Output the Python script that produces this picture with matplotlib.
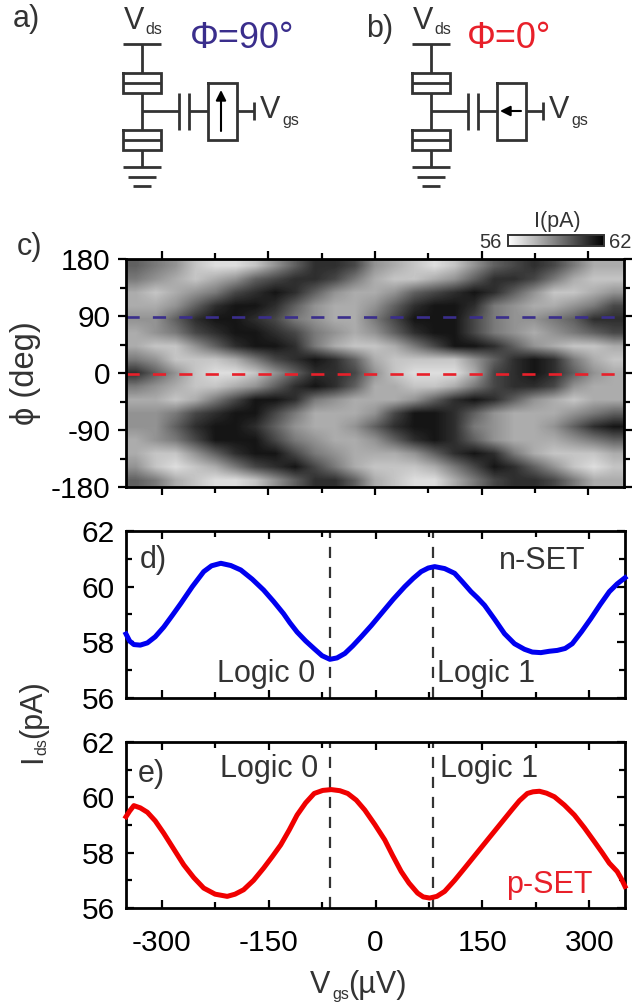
import numpy as np
import matplotlib
matplotlib.use('Agg')
import matplotlib.pyplot as plt
from matplotlib.ticker import MultipleLocator

plt.rcParams['font.family'] = ['Liberation Sans', 'DejaVu Sans']
plt.rcParams['axes.unicode_minus'] = False

W, H = 634, 1006
dark = '#333333'
blue_txt = '#3a2e8c'
red_txt = '#e8202a'

# I(pA) map, one digit per cell: 0 = 56 pA ... 9 = about 61.5 pA, top row is phi=180
heat_rows = [
    '6542112468874321246787533',
    '5432346788753223468875322',
    '3234578986433467898642234',
    '3346899864334689985433457',
    '4468998754335799975445688',
    '3457899875434689975434567',
    '3224689985322357998643223',
    '5422235789863222246898532',
    '8642112468874211137898643',
    '5432234689863322357887433',
    '3323579985433346898643233',
    '4457899753334799864333456',
    '4468998643346899854334689',
    '3457999754334689864333456',
    '3224689975433346898532223',
    '4212357897532223579864212',
    '6532112468863211357887533',
]
phi_lim = [-180, 180]
vgs_lim = [-350, 350]

# n-SET curve
v_n = [-350, -345, -339, -330, -320, -309, -297, -285, -273, -257, -241, -230, -217, -203, -189,
       -173, -157, -143, -129, -120, -110, -98, -86, -75, -64, -54, -43, -32, -20, -6,
       8, 25, 41, 53, 64, 74, 83, 97, 111, 122, 134, 143, 153, 167, 181,
       195, 209, 220, 232, 244, 255, 266, 276, 289, 302, 315, 328, 339, 350]
i_n = [58.3, 58.05, 57.92, 57.9, 57.98, 58.2, 58.55, 58.97, 59.4, 60.0, 60.54, 60.75, 60.84, 60.76, 60.6,
       60.27, 59.88, 59.47, 59.03, 58.7, 58.37, 58.05, 57.77, 57.52, 57.39, 57.44, 57.6, 57.87, 58.2, 58.6,
       59.03, 59.55, 60.0, 60.3, 60.54, 60.67, 60.72, 60.65, 60.48, 60.17, 59.82, 59.6, 59.33, 58.83, 58.31,
       57.95, 57.75, 57.65, 57.63, 57.68, 57.71, 57.78, 57.95, 58.38, 58.85, 59.35, 59.82, 60.1, 60.32]

# p-SET curve
v_p = [-350, -345, -339, -330, -320, -309, -297, -283, -269, -255, -241, -225, -208, -197, -185,
       -171, -157, -145, -133, -121, -110, -98, -86, -74, -62, -50, -39, -27, -15, -1,
       13, 24, 36, 47, 59, 67, 76, 86, 97, 111, 125, 141, 157, 174, 191,
       202, 213, 221, 230, 240, 251, 265, 279, 293, 307, 318, 328, 339, 345, 350]
i_p = [59.3, 59.5, 59.7, 59.62, 59.46, 59.15, 58.7, 58.13, 57.56, 57.1, 56.72, 56.5, 56.42, 56.5, 56.66,
       57.0, 57.44, 57.85, 58.28, 58.82, 59.36, 59.8, 60.14, 60.25, 60.28, 60.24, 60.14, 59.9, 59.54, 59.02,
       58.46, 57.9, 57.32, 56.9, 56.54, 56.4, 56.36, 56.42, 56.6, 57.0, 57.44, 57.95, 58.46, 59.0, 59.54,
       59.88, 60.14, 60.2, 60.22, 60.15, 60.02, 59.72, 59.36, 58.9, 58.4, 58.0, 57.62, 57.32, 57.05, 56.78]

logic_v = [-64, 81]
phi_lines = [88, -2]
x_ticks = [-300, -150, 0, 150, 300]
y_ticks_c = [-180, -90, 0, 90, 180]
y_ticks_i = [56, 58, 60, 62]


def px_axes(l, t, r, b):
    return fig.add_axes([l/W, 1-b/H, (r-l)/W, (b-t)/H])


def style(ax, direction, maj, mnr):
    for s in ax.spines.values():
        s.set_linewidth(2)
    ax.xaxis.set_major_locator(MultipleLocator(150))
    ax.xaxis.set_minor_locator(MultipleLocator(75))
    ax.tick_params(which='major', direction=direction, length=maj, width=1.6,
                   top=True, right=True, labelsize=21.5, pad=8 if direction == 'in' else 5)
    ax.tick_params(which='minor', direction=direction, length=mnr, width=1.6, top=True, right=True)


fig = plt.figure(figsize=(W/100, H/100), dpi=100)

# c) map
ax_c = px_axes(126, 259, 624, 487)
heat = 56 + np.array([[int(c) for c in r] for r in heat_rows])*0.61
im = ax_c.imshow(heat, cmap='gray_r', vmin=55.8, vmax=62, aspect='auto', interpolation='bilinear',
                 extent=[vgs_lim[0], vgs_lim[1], phi_lim[0], phi_lim[1]])
ax_c.axhline(phi_lines[0], color=blue_txt, lw=1.9, dashes=(5, 5))
ax_c.axhline(phi_lines[1], color=red_txt, lw=1.9, dashes=(5, 5))
style(ax_c, 'out', 6, 4)
ax_c.set_yticks(y_ticks_c)
ax_c.yaxis.set_minor_locator(MultipleLocator(45))
ax_c.tick_params(labelbottom=False)
ax_c.set_xlim(vgs_lim)
ax_c.set_ylim(phi_lim)

# colour bar
cax = px_axes(508, 235, 604, 246)
cb = fig.colorbar(im, cax=cax, orientation='horizontal')
cb.set_ticks([])
cb.outline.set_linewidth(1.4)
cb.outline.set_edgecolor(dark)

# d) and e)
ax_d = px_axes(126, 531, 625, 698)
ax_d.plot(v_n, i_n, color='#0000f0', lw=3.6, solid_joinstyle='round', clip_on=False, zorder=3)
ax_e = px_axes(126, 742, 625, 908)
ax_e.plot(v_p, i_p, color='#f00000', lw=3.6, solid_joinstyle='round', clip_on=False, zorder=3)
for ax in [ax_d, ax_e]:
    for v in logic_v:
        ax.axvline(v, color=dark, lw=1.6, dashes=(5, 4))
    style(ax, 'in', 6, 4)
    ax.set_yticks(y_ticks_i)
    ax.yaxis.set_minor_locator(MultipleLocator(1))
    ax.set_xlim(vgs_lim)
    ax.set_ylim(56, 62)
ax_d.tick_params(labelbottom=False)
ax_e.set_xticks(x_ticks)
ax_e.tick_params(axis='x', which='major', pad=15)

# overlay in pixel coordinates for the schematics and free text
ov = fig.add_axes([0, 0, 1, 1], zorder=10)
ov.set_xlim(0, W)
ov.set_ylim(H, 0)
ov.axis('off')
ov.patch.set_alpha(0)


def seg(x0, y0, x1, y1):
    ov.plot([x0, x1], [y0, y1], color=dark, lw=2, solid_capstyle='butt')


def rect(x0, y0, x1, y1):
    ov.plot([x0, x1, x1, x0, x0], [y0, y0, y1, y1, y0], color=dark, lw=2, solid_joinstyle='miter')


def txt(x, y, s, size, color=dark, **kw):
    ov.text(x, y, s, fontsize=size, color=color, va='baseline', **kw)


def circuit(dx, up):
    seg(dx+123, 44, dx+161, 44)
    seg(dx+142, 44, dx+142, 73)
    rect(dx+123, 73, dx+161, 93)
    seg(dx+123, 83, dx+161, 83)
    seg(dx+142, 93, dx+142, 130)
    rect(dx+123, 130, dx+161, 150)
    seg(dx+123, 140, dx+161, 140)
    seg(dx+142, 150, dx+142, 167)
    seg(dx+123, 167, dx+161, 167)
    seg(dx+128, 177, dx+156, 177)
    seg(dx+133, 186, dx+151, 186)
    seg(dx+142, 111, dx+179, 111)
    seg(dx+179, 93, dx+179, 130)
    seg(dx+189, 93, dx+189, 130)
    seg(dx+189, 111, dx+208, 111)
    rect(dx+208, 83, dx+237, 140)
    seg(dx+237, 111, dx+254, 111)
    seg(dx+254, 102, dx+254, 120)
    if up:
        start, end = (dx+221, 131), (dx+221, 90)
    else:
        start, end = (dx+232, 111), (dx+211, 111)
    ov.annotate('', xy=end, xytext=start,
                arrowprops=dict(arrowstyle='-|>', color='black', lw=1.5, mutation_scale=15,
                                shrinkA=0, shrinkB=0))
    txt(dx+124, 29, 'V', 22)
    txt(dx+145, 34, 'ds', 11.5)
    txt(dx+260, 118, 'V', 22)
    txt(dx+282, 125, 'gs', 11.5)


circuit(0, True)
circuit(289, False)

txt(190, 48, 'Φ=90°', 26, color=blue_txt)
txt(467, 48, 'Φ=0°', 26, color=red_txt)

txt(13, 27, 'a)', 22)
txt(366, 37, 'b)', 22)
txt(17, 255, 'c)', 22)
txt(140, 568, 'd)', 22)
txt(138, 782, 'e)', 22)

txt(217, 682, 'Logic 0', 22)
txt(437, 682, 'Logic 1', 22)
txt(499, 569, 'n-SET', 22)
txt(220, 777, 'Logic 0', 22)
txt(440, 777, 'Logic 1', 22)
txt(506, 893, 'p-SET', 22, color=red_txt)

# colour bar labels
txt(502, 248, '56', 14.5, ha='right')
txt(609, 248, '62', 14.5)
txt(557, 227, 'I(pA)', 15.5, ha='center')

# axis labels
ov.text(41, 373, 'ϕ (deg)', fontsize=23.5, color=dark, rotation=90, ha='right', va='center')
ov.text(41, 763, 'I', fontsize=22, color=dark, rotation=90, ha='left', va='baseline', rotation_mode='anchor')
ov.text(46, 755, 'ds', fontsize=11.5, color=dark, rotation=90, ha='left', va='baseline', rotation_mode='anchor')
ov.text(41, 738, '(pA)', fontsize=22, color=dark, rotation=90, ha='left', va='baseline', rotation_mode='anchor')
txt(310, 993, 'V', 22)
txt(332, 999, 'gs', 11.5)
txt(348, 993, '(µV)', 22)

fig.savefig('out.png', dpi=100)
